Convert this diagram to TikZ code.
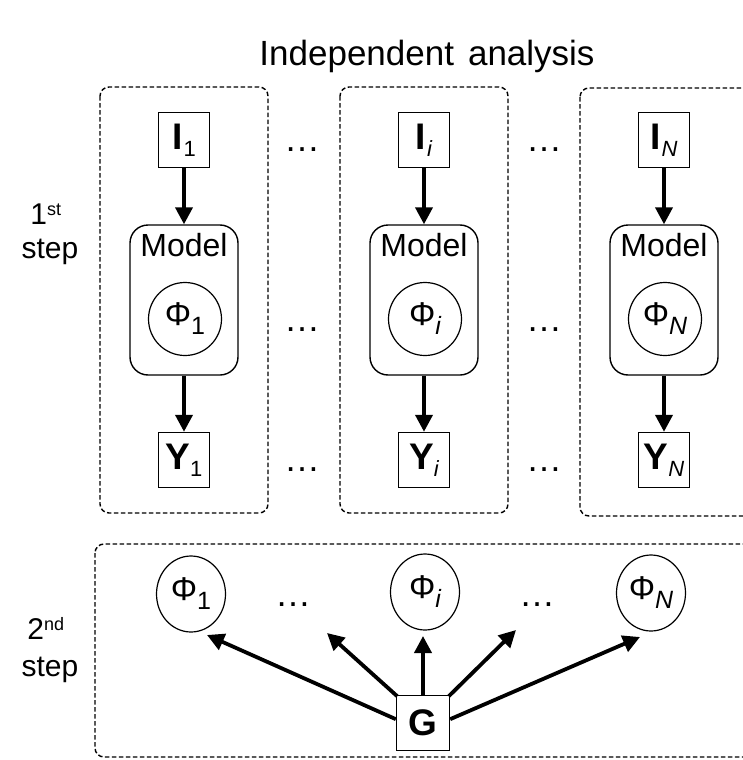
\documentclass[tikz,border=0pt]{standalone}
\usepackage{fontspec}
\setmainfont{Liberation Sans}
\usetikzlibrary{arrows.meta,shapes.geometric}
\newcommand{\subs}[1]{\raisebox{-7pt}{\fontsize{22}{24}\selectfont #1}}
\newcommand{\psubs}[1]{\raisebox{-9pt}{\fontsize{25}{27}\selectfont #1}}
\begin{document}
\begin{tikzpicture}[x=1pt,y=-1pt,
  group/.style={draw,line width=1.4pt,dash pattern=on 4.5pt off 2.5pt,rounded corners=9pt},
  var/.style={draw,line width=1.4pt,minimum width=51pt,minimum height=55pt,inner sep=0pt,
    font=\fontsize{37}{40}\selectfont},
  model/.style={draw,line width=1.4pt,rounded corners=18pt,minimum width=108pt,minimum height=150pt},
  param/.style={draw,circle,line width=1.2pt,minimum size=73pt,inner sep=0pt,
    font=\fontsize{33}{36}\selectfont},
  gparam/.style={draw,ellipse,line width=1.2pt,minimum width=69pt,minimum height=76pt,inner sep=0pt,
    font=\fontsize{33}{36}\selectfont},
  lbl/.style={font=\fontsize{30}{32}\selectfont,inner sep=0pt},
  dots/.style={font=\fontsize{36}{38}\selectfont,inner sep=0pt},
  arr/.style={line width=3.8pt,-{Triangle[width=17pt,length=17pt]}}
]
\useasboundingbox (0,0) rectangle (742,760);
\fill[white] (0,0) rectangle (742,760);

% title
\node[font=\fontsize{35}{38}\selectfont] (title) at (427,56) {Independent\hspace{14pt}analysis};

% first-step groups
\draw[group] (100,87) rectangle (268,513);
\draw[group] (340,87) rectangle (508,513);
\draw[group] (580,88) rectangle (775,516);

% step labels
\node[lbl] (s1a) at (46,214) {1\textsuperscript{\fontsize{18}{19}\selectfont st}};
\node[lbl] (s1b) at (50,252) {step};
\node[lbl] (s2a) at (46,628) {2\textsuperscript{\fontsize{18}{19}\selectfont nd}};
\node[lbl] (s2b) at (50,670) {step};

% columns
\foreach \x/\k/\s in {184/1/{1}, 424/i/{\itshape i}, 664/N/{\itshape N}} {
  \node[var] (I\k) at (\x,140) {\textbf{I}\kern1pt\subs{\s}};
  \node[model] (M\k) at (\x,300) {};
  \node[lbl,font=\fontsize{32}{34}\selectfont] (ML\k) at (\x,245) {Model};
  \node[param] (P\k) at (\x+1,319) {Φ\psubs{\s}};
  \node[var] (Y\k) at (\x,460) {\textbf{Y}\subs{\s}};
  \draw[arr] (I\k) -- (M\k);
  \draw[arr] (M\k) -- (Y\k);
}

% dots between columns
\foreach \x in {302,544} {
  \foreach \y in {150,330,470} {
    \node[dots] at (\x,\y) {…};
  }
}

% second-step group
\draw[group] (95,544) rectangle (775,757);
\node[gparam] (Q1) at (191,594) {Φ\psubs{1}};
\node[gparam] (Qi) at (425,592) {Φ\psubs{\itshape i}};
\node[gparam] (QN) at (651,593) {Φ\psubs{\itshape N}};
\node[dots] (d1) at (293,605) {…};
\node[dots] (d2) at (537,605) {…};
\node[var,minimum width=53pt,minimum height=55pt] (G) at (423,723) {\textbf{G}};

\coordinate (e1) at (207,635);
\coordinate (e2) at (327,633);
\coordinate (e3) at (423,636);
\coordinate (e4) at (516,630);
\coordinate (e5) at (640,637);
\draw[arr] (G.172) -- (e1);
\draw[arr] ([shift={(1.5pt,-1.5pt)}]G.north west) -- (e2);
\draw[arr] (G.north) -- (e3);
\draw[arr] ([shift={(-1.5pt,-1.5pt)}]G.north east) -- (e4);
\draw[arr] (G.8) -- (e5);
\end{tikzpicture}
\end{document}
